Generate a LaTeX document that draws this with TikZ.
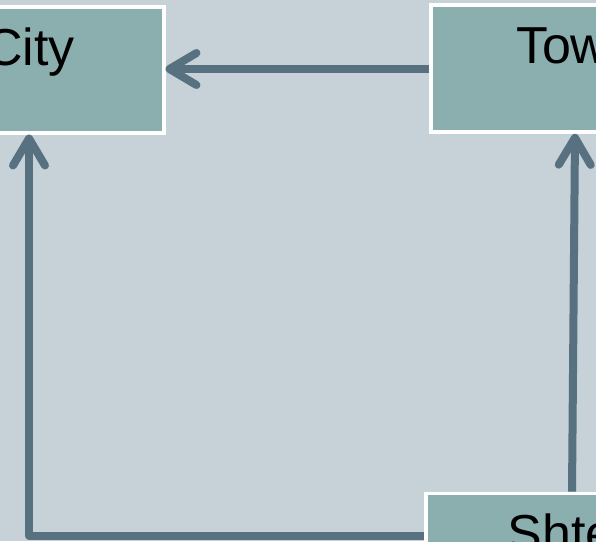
\documentclass[tikz,border=0pt]{standalone}
\usepackage{fontspec}
\setmainfont{Liberation Sans}
\usetikzlibrary{arrows.meta}
\definecolor{bgc}{HTML}{C6D1D8}
\definecolor{boxc}{HTML}{8BAEAE}
\definecolor{arrc}{HTML}{587180}
\tikzset{
  box/.style={draw=white, fill=boxc, line width=3.5pt, rectangle, inner sep=0pt},
  lbl/.style={anchor=base west, inner sep=0pt, font=\fontsize{52}{60}\selectfont, text=black},
  conn/.style={draw=arrc, line width=8pt, line join=round,
    -{Straight Barb[length=27pt, width=32pt, line cap=round, line join=round]}},
}
\begin{document}
\begin{tikzpicture}[x=1pt, y=-1pt]
\fill[bgc] (0,0) rectangle (596,541);
\useasboundingbox (0,0) rectangle (596,541);
\begin{scope}
\clip (0,0) rectangle (596,541);
\node[box, anchor=north east, minimum width=300pt, minimum height=126pt] (city) at (165.5,5) {};
\node[box, anchor=north west, minimum width=300pt, minimum height=127pt] (town) at (429.3,3.3) {};
\node[box, anchor=north west, minimum width=300pt, minimum height=126pt] (shtetl) at (424,491.7) {};
\node[lbl] (citytext) at (-15,65.5) {City};
\node[lbl] (towntext) at (515.8,63.5) {Town};
\node[lbl] (shtetltext) at (507.6,551) {Shtetl};
\coordinate (corner) at (29,535.5);
\draw[conn] (town.west |- 0,69) -- (city.east |- 0,69);
\draw[conn] (shtetl.west |- corner) -- (corner) -- (city.south -| corner);
\draw[conn] (shtetl.north -| 572,0) -- (town.south -| 575,0);
\end{scope}
\end{tikzpicture}
\end{document}
